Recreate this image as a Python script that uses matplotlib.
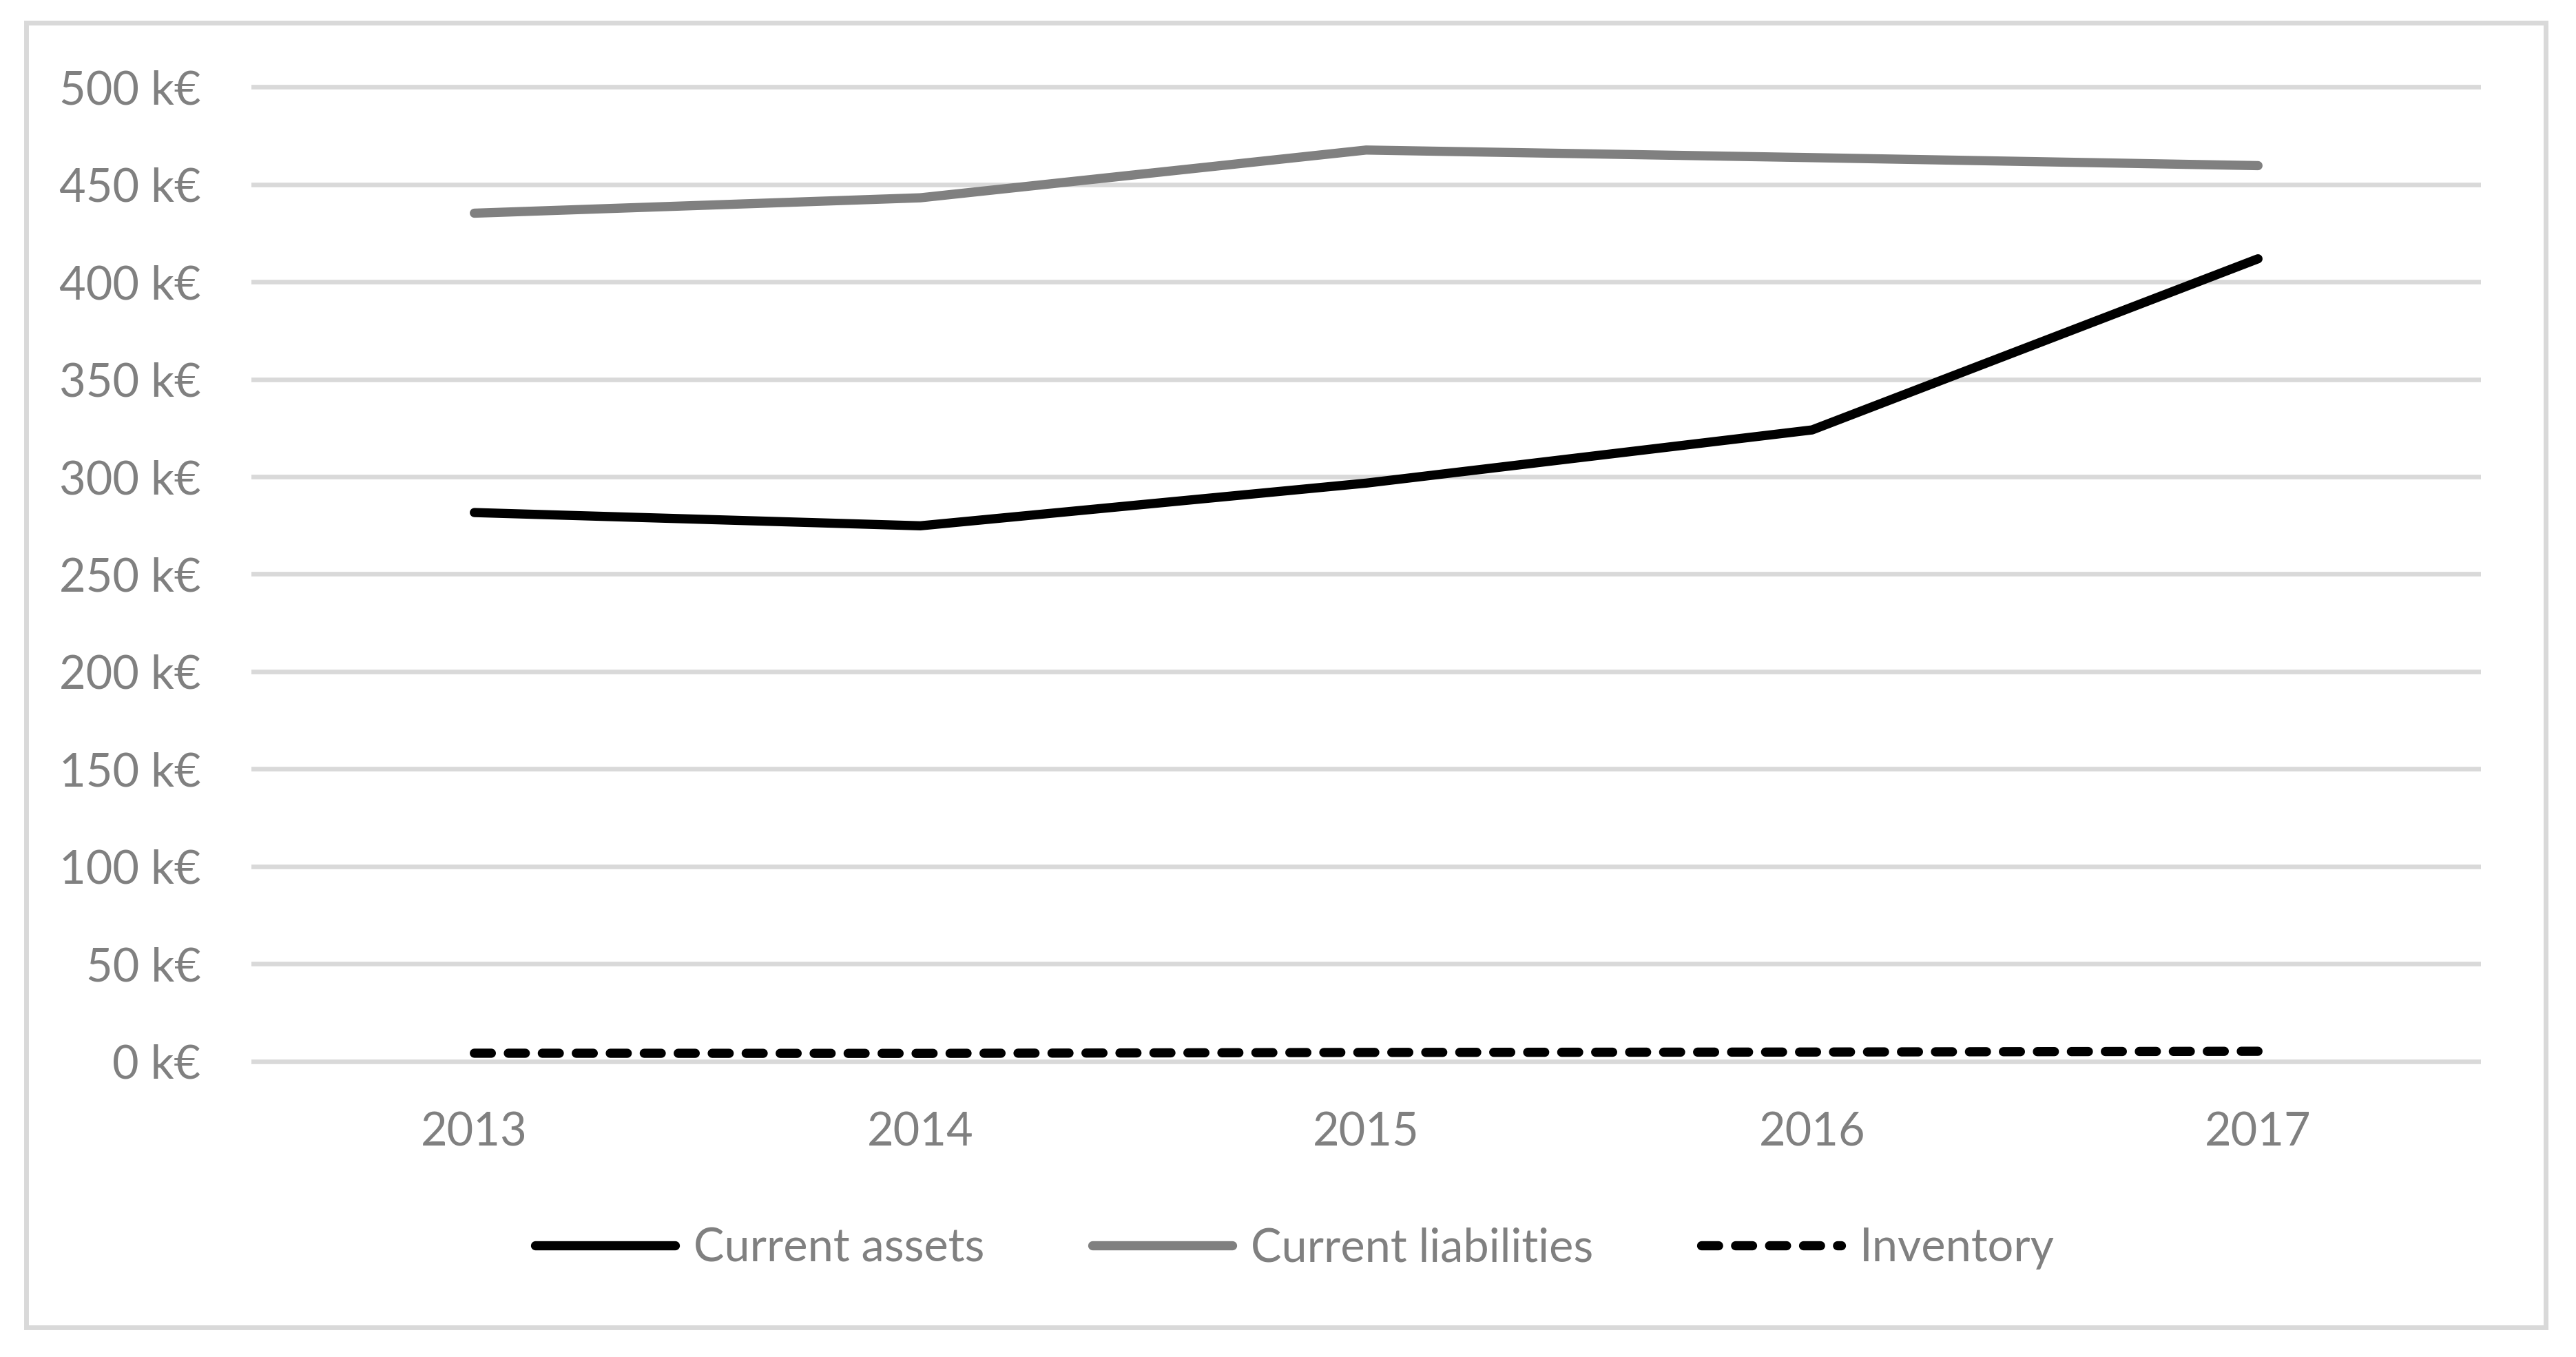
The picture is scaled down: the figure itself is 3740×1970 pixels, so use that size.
import matplotlib.pyplot as plt
from matplotlib.patches import Rectangle

years = ["2013", "2014", "2015", "2016", "2017"]
current_assets = [281.6, 274.8, 296.7, 324.0, 411.8]
current_liabilities = [435.2, 443.1, 467.6, 463.7, 459.6]
inventory = [4.2, 4.1, 4.6, 4.8, 5.2]
yticks = [0, 50, 100, 150, 200, 250, 300, 350, 400, 450, 500]

W, H = 3740, 1970
plt.rcParams['font.family'] = ['Lato', 'DejaVu Sans']
txt = "#808080"
grid = "#d9d9d9"

fig = plt.figure(figsize=(W / 100, H / 100), dpi=100)
fig.patch.set_facecolor("white")

# outer chart border
fig.patches.append(Rectangle((38 / W, 1 - 1927 / H), (3696 - 38) / W, (1927 - 33) / H,
                             transform=fig.transFigure, fill=False, ec=grid, lw=5))

ax = fig.add_axes([365 / W, 1 - 1555 / H, (3602 - 365) / W, (1555 - 112) / H])
x = range(len(years))
lw = 9.6
ax.plot(x, current_assets, color="black", lw=lw, solid_capstyle="round",
        solid_joinstyle="round", label="Current assets", zorder=3)
ax.plot(x, current_liabilities, color="#808080", lw=lw, solid_capstyle="round",
        solid_joinstyle="round", label="Current liabilities", zorder=3)
ax.plot(x, inventory, color="black", lw=lw, dashes=(1.85, 1.85), dash_capstyle="round",
        label="Inventory", zorder=3)

ax.set_xlim(-0.5, 4.5)
ax.set_ylim(-5, 505)
ax.set_yticks(yticks)
ax.set_yticklabels([f"{v} k€" for v in yticks])
ax.set_xticks(list(x))
ax.set_xticklabels(years)
ax.tick_params(axis="y", length=0, pad=53, labelsize=48, labelcolor=txt)
ax.tick_params(axis="x", length=0, pad=42, labelsize=48, labelcolor=txt)
ax.yaxis.grid(True, color=grid, lw=4.8)
ax.set_axisbelow(True)
for s in ax.spines.values():
    s.set_visible(False)

leg = fig.legend(loc="center", bbox_to_anchor=(0.5027, 1 - 1812 / H), ncol=3,
                 frameon=False, fontsize=48, handlelength=3.05, handletextpad=0.4,
                 columnspacing=2.35)
for t in leg.get_texts():
    t.set_color(txt)

fig.savefig("out.png", dpi=100, facecolor="white")
